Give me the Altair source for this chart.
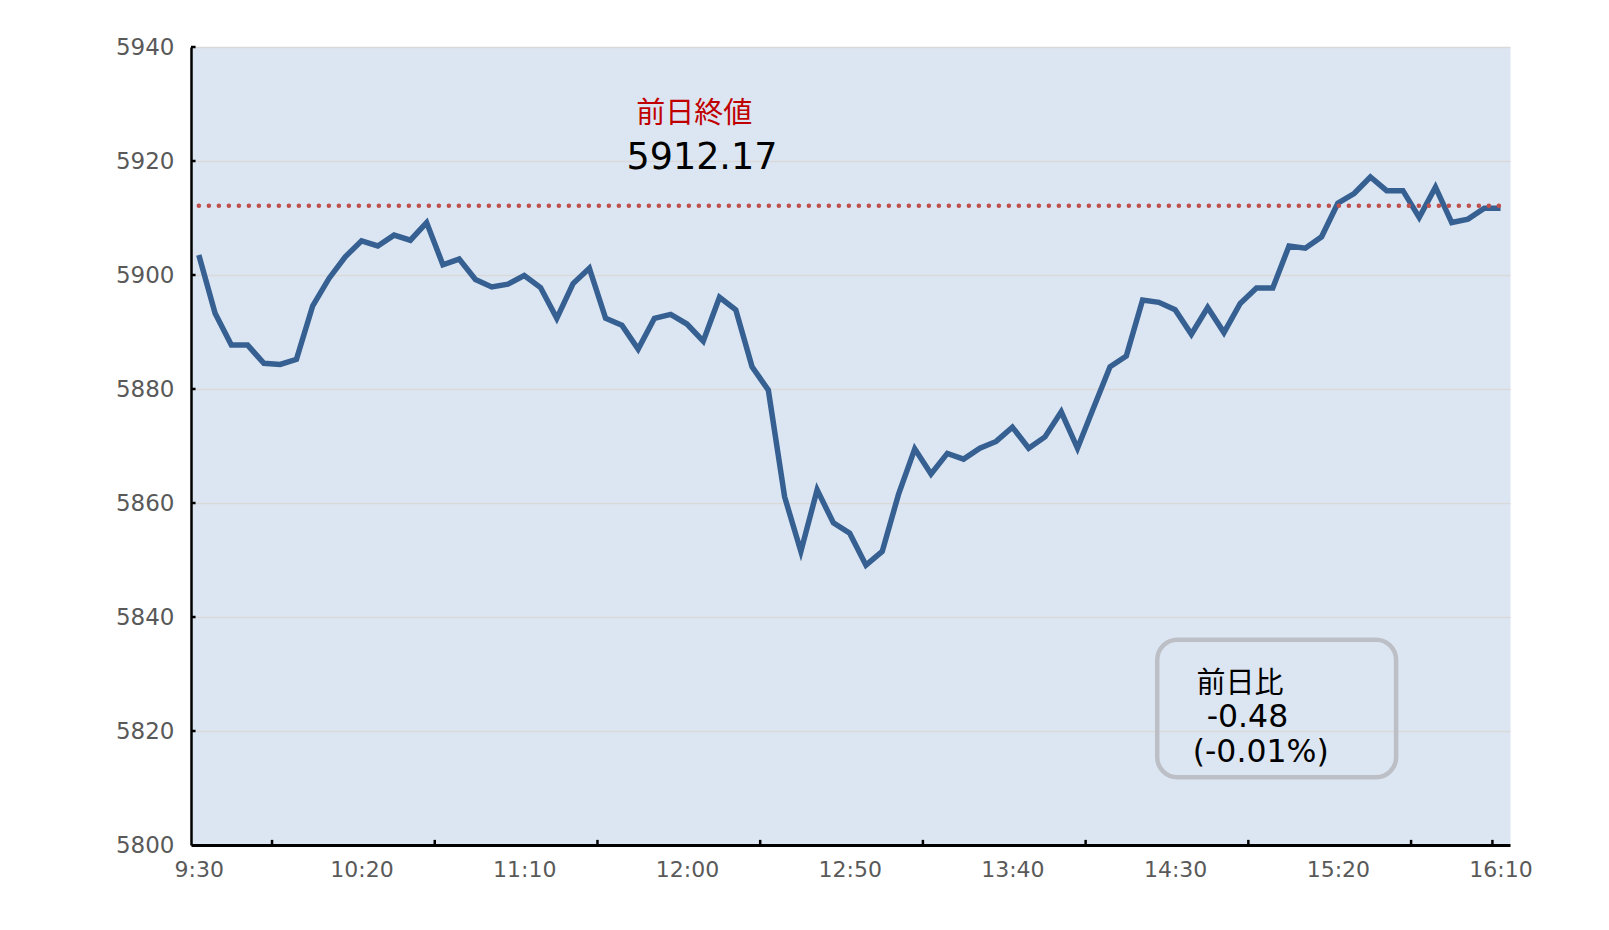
import altair as alt
import pandas as pd

# ---- data ----
TIMES = [f"{(570 + 5 * i) // 60}:{(570 + 5 * i) % 60:02d}" for i in range(81)]
PRICES = [5903.5, 5893.3, 5887.7, 5887.7, 5884.5, 5884.3, 5885.2, 5894.6, 5899.4, 5903.2,
          5906.0, 5905.1, 5907.0, 5906.1, 5909.2, 5901.8, 5902.8, 5899.2, 5897.9, 5898.4,
          5899.9, 5897.8, 5892.4, 5898.5, 5901.2, 5892.4, 5891.2, 5887.0, 5892.4, 5893.1,
          5891.4, 5888.4, 5896.1, 5893.9, 5883.9, 5879.8, 5861.1, 5851.5, 5862.3, 5856.5,
          5854.7, 5849.1, 5851.5, 5861.5, 5869.5, 5865.1, 5868.7, 5867.7, 5869.6, 5870.8,
          5873.3, 5869.6, 5871.6, 5876.0, 5869.6, 5876.8, 5883.9, 5885.8, 5895.6, 5895.2,
          5893.9, 5889.6, 5894.3, 5889.9, 5895.0, 5897.7, 5897.7, 5905.1, 5904.7, 5906.7,
          5912.6, 5914.3, 5917.2, 5914.8, 5914.8, 5910.1, 5915.4, 5909.2, 5909.8, 5911.7,
          5911.7]
X_LABEL_MINUTES = [0, 50, 100, 150, 200, 250, 300, 350, 400]
X_TICK_MINUTES = [22.5, 72.5, 122.5, 172.5, 222.5, 272.5, 322.5, 372.5, 397.5]
Y_TICKS = [5800, 5820, 5840, 5860, 5880, 5900, 5920, 5940]
PREV_CLOSE = 5912.17
PREV_CLOSE_LABEL = "前日終値"
PREV_CLOSE_TEXT = "5912.17"
CHANGE_LABEL = "前日比"
CHANGE_VALUE = "-0.48"
CHANGE_PCT = "(-0.01%)"

# ---- scale extents ----
X_MIN, X_MAX = -2.4, 402.9
Y_MIN, Y_MAX = 5800, 5940


def minutes(t):
    h, m = t.split(":")
    return int(h) * 60 + int(m) - 570


df = pd.DataFrame({"time": TIMES, "price": PRICES})
df["minute"] = [minutes(t) for t in TIMES]

xscale = alt.Scale(domain=[X_MIN, X_MAX], nice=False, zero=False)
yscale = alt.Scale(domain=[Y_MIN, Y_MAX], nice=False, zero=False)

LABEL_FONT = "DejaVu Sans"
JP_FONT = "Noto Sans CJK JP"

label_expr = ("floor((datum.value + 570) / 60) + ':' + "
              "(((datum.value + 570) % 60) < 10 ? '0' : '') + ((datum.value + 570) % 60)")

X_AXIS = alt.Axis(values=X_LABEL_MINUTES, labelExpr=label_expr, title=None,
                  grid=False, ticks=False, tickSize=0, labelPadding=14,
                  labelFontSize=22, labelFont=LABEL_FONT, labelColor="#595959",
                  domainColor="#000000", domainWidth=3, labelFlush=False)
Y_AXIS = alt.Axis(values=Y_TICKS, format="d", title=None, grid=True, gridColor="#D9D9D9",
                  gridWidth=1.5, ticks=False, tickSize=0, labelPadding=17,
                  labelFontSize=23, labelFont=LABEL_FONT, labelColor="#595959",
                  domainColor="#000000", domainWidth=2.5)

line = alt.Chart(df).mark_line(color="#366092", strokeWidth=5.5).encode(
    x=alt.X("minute:Q", scale=xscale, axis=X_AXIS),
    y=alt.Y("price:Q", scale=yscale, axis=Y_AXIS),
)

one = pd.DataFrame({"k": [0]})

prev_rule = alt.Chart(one).mark_rule(
    color="#C0504D", strokeWidth=4.5, strokeDash=[0.1, 9.9], strokeCap="round"
).encode(
    x=alt.X(datum=0, scale=xscale, axis=X_AXIS),
    x2=alt.datum(400),
    y=alt.Y(datum=PREV_CLOSE, scale=yscale, axis=Y_AXIS),
)

xticks = alt.Chart(pd.DataFrame({"m": X_TICK_MINUTES})).mark_rule(
    color="#000000", strokeWidth=2.5
).encode(
    x=alt.X("m:Q", scale=xscale, axis=X_AXIS),
    y=alt.Y(datum=Y_MIN, scale=yscale, axis=Y_AXIS),
    y2=alt.datum(Y_MIN + 0.9),
)

yticks = alt.Chart(pd.DataFrame({"v": Y_TICKS[1:]})).mark_rule(
    color="#000000", strokeWidth=2.5
).encode(
    y=alt.Y("v:Q", scale=yscale, axis=Y_AXIS),
    x=alt.X(datum=X_MIN, scale=xscale, axis=X_AXIS),
    x2=alt.datum(X_MIN + 1.4),
)

box = alt.Chart(one).mark_rect(
    fill="transparent", stroke="#BCC0C6", strokeWidth=4.5, cornerRadius=20
).encode(
    x=alt.X(datum=294.5, scale=xscale, axis=X_AXIS),
    x2=alt.datum(367.9),
    y=alt.Y(datum=5836.0, scale=yscale, axis=Y_AXIS),
    y2=alt.datum(5811.9),
)


def text_layer(txt, xv, yv, font, size, color, align):
    return alt.Chart(pd.DataFrame({"t": [txt]})).mark_text(
        font=font, fontSize=size, color=color, align=align, baseline="middle"
    ).encode(
        x=alt.X(datum=xv, scale=xscale, axis=X_AXIS),
        y=alt.Y(datum=yv, scale=yscale, axis=Y_AXIS),
        text="t:N",
    )


t1 = text_layer(PREV_CLOSE_LABEL, 152.2, 5928.2, JP_FONT, 29, "#C00000", "center")
t2 = text_layer(PREV_CLOSE_TEXT, 154.6, 5920.6, LABEL_FONT, 36.5, "#000000", "center")
t3 = text_layer(CHANGE_LABEL, 306.6, 5828.3, JP_FONT, 29, "#000000", "left")
t4 = text_layer(CHANGE_VALUE, 309.7, 5822.2, LABEL_FONT, 31.5, "#000000", "left")
t5 = text_layer(CHANGE_PCT, 305.4, 5816.2, LABEL_FONT, 31.5, "#000000", "left")

chart = alt.layer(
    line, prev_rule, xticks, yticks, box, t1, t2, t3, t4, t5
).properties(
    width=1319,
    height=798,
    autosize=alt.AutoSizeParams(type="none"),
    padding={"left": 183, "top": 39, "right": 60, "bottom": 70},
    background="#FFFFFF",
).configure_view(
    fill="#DCE6F2", stroke="transparent"
)

chart.save("out.html", embed_options={"renderer": "svg", "actions": False})
